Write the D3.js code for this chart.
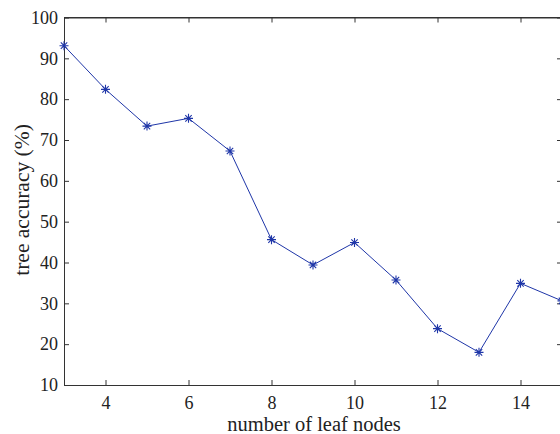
<!DOCTYPE html>
<html>
<head>
<meta charset="utf-8">
<script src="https://cdn.jsdelivr.net/npm/d3@7"></script>
<style>
  body { margin: 0; background: #fff; }
  svg { display: block; }
</style>
</head>
<body>
<svg class="target" width="560" height="434"></svg>
<script>
var leafNodes = [3, 4, 5, 6, 7, 8, 9, 10, 11, 12, 13, 14, 15]
var accuracy = [93.1, 82.4, 73.4, 75.3, 67.3, 45.6, 39.4, 44.9, 35.7, 23.8, 18.0, 34.9, 30.6]
var xTicks = [4, 6, 8, 10, 12, 14]
var yTicks = [10, 20, 30, 40, 50, 60, 70, 80, 90, 100]

var lineColor = "#1f36a8";
var axisColor = "#333";
var fontFam = '"Liberation Serif", "Times New Roman", serif';

const svg = d3.select(".target");
const margin = { left: 64, top: 17.5, right: 562, bottom: 385 };

var x = d3.scaleLinear().domain([3, 15]).range([margin.left, margin.right]);
var y = d3.scaleLinear().domain([10, 100]).range([margin.bottom, margin.top]);

// box around plot
var box = svg.append('g');
box.append('line').attr('x1', margin.left).attr('x2', margin.right).attr('y1', margin.top).attr('y2', margin.top);
box.append('line').attr('x1', margin.right).attr('x2', margin.right).attr('y1', margin.top).attr('y2', margin.bottom);
box.selectAll('line').style('stroke', axisColor).style('stroke-width', 1);

// bottom & left axes, ticks pointing inward
svg.append('g')
    .attr('transform', `translate(0,${margin.bottom})`)
    .call(d3.axisBottom(x).tickValues(xTicks).tickSizeInner(-5).tickSizeOuter(0).tickPadding(11));
svg.append('g')
    .attr('transform', `translate(${margin.left},0)`)
    .call(d3.axisLeft(y).tickValues(yTicks).tickSizeInner(-5).tickSizeOuter(0).tickPadding(6));

// mirrored ticks on top & right
svg.append('g')
    .attr('transform', `translate(0,${margin.top})`)
    .call(d3.axisTop(x).tickValues(xTicks).tickSizeInner(-5).tickSizeOuter(0).tickFormat(''));
svg.append('g')
    .attr('transform', `translate(${margin.right},0)`)
    .call(d3.axisRight(y).tickValues(yTicks).tickSizeInner(-5).tickSizeOuter(0).tickFormat(''));

svg.selectAll('g').attr('font-family', fontFam).attr('font-size', 18);
svg.selectAll('.domain, .tick line').style('stroke', axisColor);
svg.selectAll('.tick text').style('fill', '#222');

// data line
var line = d3.line().x((d, i) => x(leafNodes[i])).y(d => y(d));
svg.append('path')
    .datum(accuracy)
    .attr('d', line)
    .style('fill', 'none')
    .style('stroke', lineColor)
    .style('stroke-width', 1);

// asterisk markers
var s = 4.5, d = 3.2;
var star = `M${-s},0L${s},0M0,${-s}L0,${s}M${-d},${-d}L${d},${d}M${-d},${d}L${d},${-d}`;
svg.selectAll('.mark')
    .data(accuracy)
    .enter()
    .append('path')
    .attr('class', 'mark')
    .attr('transform', (v, i) => `translate(${x(leafNodes[i])},${y(v)})`)
    .attr('d', star)
    .style('fill', 'none')
    .style('stroke', lineColor)
    .style('stroke-width', 1.1);

// axis labels
svg.append('text')
    .attr('x', 314)
    .attr('y', 431)
    .attr('text-anchor', 'middle')
    .attr('font-family', fontFam)
    .attr('font-size', 20.5)
    .style('fill', '#222')
    .text('number of leaf nodes');

svg.append('text')
    .attr('transform', `translate(29,200) rotate(-90)`)
    .attr('text-anchor', 'middle')
    .attr('font-family', fontFam)
    .attr('font-size', 21.5)
    .style('fill', '#222')
    .text('tree accuracy (%)');
</script>
</body>
</html>
